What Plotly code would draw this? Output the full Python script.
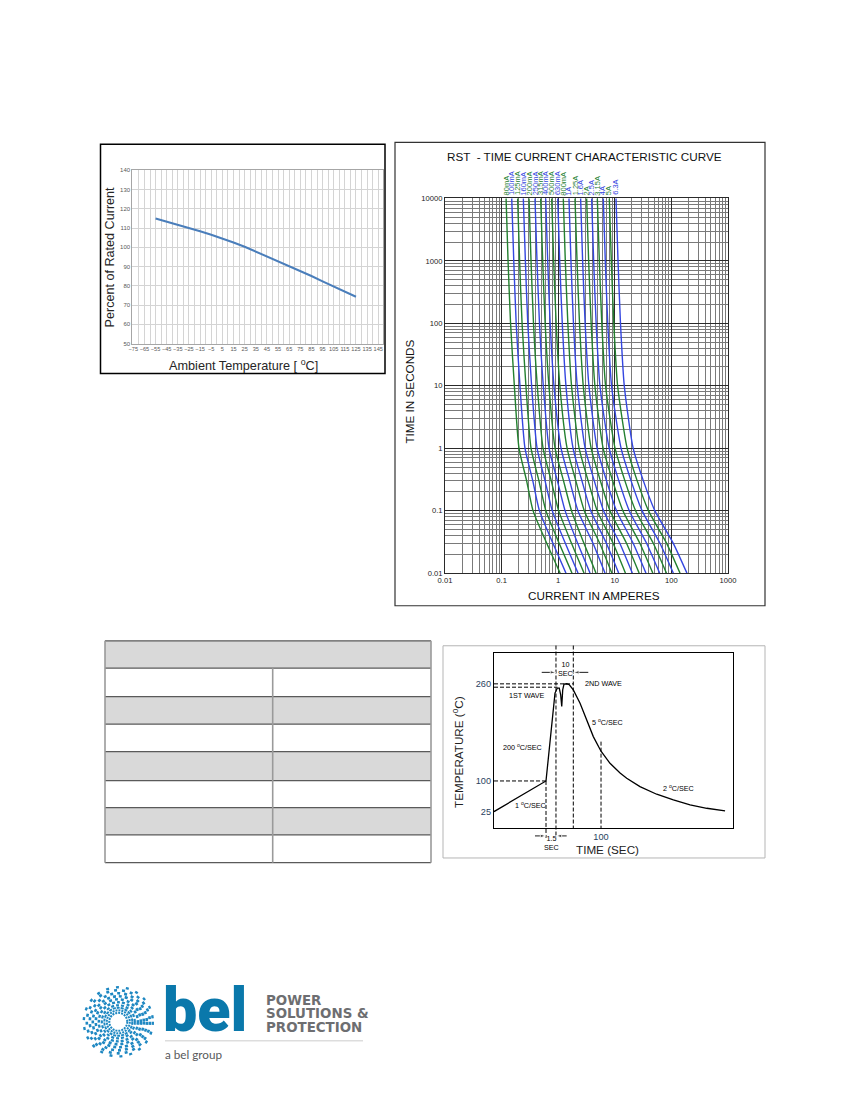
import math
import numpy as np
import plotly.graph_objects as go

W, H = 850, 1100

# page position (px on the printed page) -> paper fraction; the rendered
# figure sits in an 835 x 1090 box offset by (15, 12.8) on the page
PAGE_X0, PAGE_W = 15.0, 835.0
PAGE_Y0, PAGE_H = 12.8, 1090.0


def px(x):
    return (x - PAGE_X0) / PAGE_W


def py(y):
    return 1 - (y - PAGE_Y0) / PAGE_H


# ---- derating curve
derate_temp = [-55, -45, -35, -25, -15, -5, 5, 15, 25, 35, 45, 55, 65, 75, 85, 95, 105, 115, 125]
derate_pct = [115, 113.4, 111.8, 110.2, 108.3, 106.5, 104.6, 102.5, 100.3, 97.8, 95.3, 92.8,
              90.3, 87.7, 85.1, 82.3, 79.5, 76.9, 74.3]

# ---- time current characteristic (current in A read at each time)
ratings = ['80mA', '100mA', '125mA', '160mA', '200mA', '250mA', '315mA', '400mA', '500mA',
           '630mA', '800mA', '1A', '1.25A', '1.6A', '2A', '2.5A', '3.15A', '4A', '5A', '6.3A']
tcc_times = [10000, 1000, 100, 10, 1, 0.3, 0.1, 0.03, 0.01]
amps_10000s = [0.120, 0.151, 0.192, 0.242, 0.305, 0.389, 0.490, 0.601, 0.767, 0.98,
               1.23, 1.55, 1.98, 2.49, 3.18, 3.90, 4.91, 6.26, 8.0, 10.5]
amps_1000s = [0.130, 0.164, 0.208, 0.263, 0.331, 0.422, 0.532, 0.652, 0.832, 1.063,
              1.335, 1.68, 2.15, 2.70, 3.45, 4.23, 5.33, 6.79, 8.68, 11.4]
amps_100s = [0.144, 0.181, 0.230, 0.290, 0.366, 0.467, 0.588, 0.721, 0.920, 1.18,
             1.48, 1.86, 2.38, 2.99, 3.82, 4.68, 5.89, 7.51, 9.6, 12.6]
amps_10s = [0.168, 0.211, 0.269, 0.339, 0.427, 0.545, 0.686, 0.841, 1.07, 1.37,
            1.72, 2.17, 2.77, 3.49, 4.45, 5.46, 6.87, 8.76, 11.2, 14.7]
amps_1s = [0.203, 0.259, 0.331, 0.423, 0.540, 0.689, 0.880, 1.124, 1.435, 1.83,
           2.34, 2.99, 3.82, 4.87, 6.22, 7.95, 10.1, 12.9, 16.5, 21.1]
amps_300ms = [0.277, 0.356, 0.457, 0.587, 0.754, 0.968, 1.243, 1.596, 2.05, 2.63,
              3.38, 4.34, 5.57, 7.15, 9.18, 11.8, 15.1, 19.4, 24.9, 32.0]
amps_100ms = [0.359, 0.466, 0.605, 0.785, 1.019, 1.323, 1.717, 2.23, 2.89, 3.76,
              4.88, 6.33, 8.22, 10.7, 13.9, 18.0, 23.3, 30.3, 39.3, 51.0]
amps_30ms = [0.627, 0.807, 1.039, 1.337, 1.72, 2.21, 2.85, 4.12, 5.41, 7.10,
             9.33, 12.25, 16.1, 21.1, 27.7, 36.4, 47.8, 62.7, 82.4, 108]
amps_10ms = [1.08, 1.37, 1.75, 2.24, 2.86, 3.65, 4.65, 6.71, 8.86, 11.7,
             15.4, 20.4, 26.9, 35.5, 46.9, 61.9, 81.7, 108, 142, 188]
tcc_columns = [amps_10000s, amps_1000s, amps_100s, amps_10s, amps_1s,
               amps_300ms, amps_100ms, amps_30ms, amps_10ms]
tcc_xticks = [0.01, 0.1, 1, 10, 100, 1000]
tcc_yticks = [0.01, 0.1, 1, 10, 100, 1000, 10000]

# ---- wave soldering profile (schematic)
profile_time = [0, 48.6, 57.0, 59.2, 61.0, 62.3, 63.3, 64.2, 65.4, 67.9, 70.4, 72.6, 74.1,
                80.4, 86.6, 92.8, 100, 108.4, 117.8, 124, 136.4, 152, 167.6, 183.2, 198.8, 215.9]
profile_temp = [25, 100, 244.7, 252.9, 252.9, 241.9, 222.6, 250, 259.5, 260, 258.4, 252.9, 250,
                228, 201, 173, 149, 129, 113, 104.5, 86, 67.5, 53.6, 41.4, 33.2, 26.7]
temp_marks = [25, 100, 260]
temp_mark_pos = [0.0, 0.24, 1.0]   # schematic (not to scale) temperature axis
wave_marks = [48.6, 57.9, 74.1, 100]   # times of the guide lines


def temp_axis(t):
    return [float(v) for v in np.interp(np.atleast_1d(t), temp_marks, temp_mark_pos)]


GREEN = '#23802f'
BLUE = '#3446e0'
FONT = 'Liberation Sans, Arial, sans-serif'

fig = go.Figure()

# derating
fig.add_trace(go.Scatter(x=derate_temp, y=derate_pct, mode='lines',
                         line=dict(color='#4a7ebb', width=2),
                         xaxis='x', yaxis='y', hoverinfo='skip', showlegend=False))

# TCC curves
for i, name in enumerate(ratings):
    col = GREEN if i % 2 == 0 else BLUE
    fig.add_trace(go.Scatter(x=[c[i] for c in tcc_columns], y=tcc_times, mode='lines',
                             line=dict(color=col, width=1.4, shape='spline', smoothing=0.6),
                             xaxis='x2', yaxis='y2', name=name, hoverinfo='skip',
                             showlegend=False))

# soldering profile
fig.add_trace(go.Scatter(x=profile_time, y=temp_axis(profile_temp), mode='lines',
                         line=dict(color='black', width=1.3),
                         xaxis='x3', yaxis='y3', hoverinfo='skip', showlegend=False))

# guide lines and arrows on an overlay axis that reaches past the frame
y3_range = [-0.13, 1.24]
y4_range = [-0.30, 1.345]
guide_top, guide_bottom, arrow_low, arrow_high = 1.30, -0.205, -0.19, 1.09
dash_style = dict(color='black', width=1, dash='4px,2px')
t100, t_ramp_top, t_peak_end, t_ref = wave_marks
guides = [
    ([0, t100], temp_axis([100, 100])),
    ([0, t_peak_end], temp_axis([260, 260])),
    ([0, 59.2], temp_axis([254.5, 254.5])),
    ([t100, t100], [temp_axis(100)[0], guide_bottom]),
    ([t_ramp_top, t_ramp_top], [guide_top, guide_bottom]),
    ([t_peak_end, t_peak_end], [guide_top, y3_range[0]]),
    ([t_ref, t_ref], [temp_axis(164.8)[0], y3_range[0]]),
]
for xs, ys in guides:
    fig.add_trace(go.Scatter(x=xs, y=ys, mode='lines', line=dash_style,
                             xaxis='x4', yaxis='y4', hoverinfo='skip', showlegend=False))
arrows = [(44.6, t_ramp_top, arrow_high), (88.1, t_peak_end, arrow_high),
          (38.3, t100, arrow_low), (67.9, t_ramp_top, arrow_low)]
for tail, head, yy in arrows:
    fig.add_trace(go.Scatter(x=[tail, head], y=[yy, yy], mode='lines+markers',
                             line=dict(color='black', width=0.9),
                             marker=dict(symbol='arrow', size=[0, 6], angleref='previous',
                                         color='black'),
                             xaxis='x4', yaxis='y4', hoverinfo='skip', showlegend=False))

shapes = []
annotations = []


def rect(x0, y0, x1, y1, line=None, fill=None):
    shapes.append(dict(type='rect', xref='paper', yref='paper',
                       x0=px(x0), x1=px(x1), y0=py(y1), y1=py(y0),
                       line=line or dict(width=0), fillcolor=fill, layer='below'))


def hline(x0, x1, y, color, width=1):
    shapes.append(dict(type='line', xref='paper', yref='paper', x0=px(x0), x1=px(x1),
                       y0=py(y), y1=py(y), line=dict(color=color, width=width)))


def vline(x, y0, y1, color, width=1):
    shapes.append(dict(type='line', xref='paper', yref='paper', x0=px(x), x1=px(x),
                       y0=py(y0), y1=py(y1), line=dict(color=color, width=width)))


def text(x, y, s, size, color='black', xanchor='center', yanchor='middle', angle=0,
         family=FONT, weight=None):
    f = dict(size=size, color=color, family=family)
    if weight:
        f['weight'] = weight
    annotations.append(dict(x=px(x), y=py(y), xref='paper', yref='paper', text=s,
                            showarrow=False, xanchor=xanchor, yanchor=yanchor,
                            textangle=angle, font=f))


# frames
rect(100.5, 145, 385, 374, line=dict(color='black', width=1.5))
rect(395, 143, 765, 606, line=dict(color='#333333', width=1.2))
rect(443, 646, 765, 858, line=dict(color='#b5b5b5', width=1))

# derating titles
text(110, 258, 'Percent of Rated Current', 12.6, '#262626', angle=-90)
text(244, 365, 'Ambient Temperature [ <sup>o</sup>C]', 12.7, '#262626')

# TCC texts
text(584, 157, 'RST  - TIME CURRENT CHARACTERISTIC CURVE', 11.7, '#111111')
text(594, 596, 'CURRENT IN AMPERES', 11.7, '#111111')
text(410, 392, 'TIME IN SECONDS', 11.7, '#111111', angle=-90)
for i, name in enumerate(ratings):
    annotations.append(dict(x=math.log10(amps_10000s[i]), xref='x2', y=py(198), yref='paper',
                            text=name, showarrow=False, textangle=-90, xanchor='center',
                            yanchor='bottom',
                            font=dict(size=7.5, family=FONT,
                                      color=GREEN if i % 2 == 0 else BLUE)))

# table (no text)
table_left, table_mid, table_right = 105, 272.7, 431
row_edges = [641, 668.3, 696.7, 724.3, 751.7, 780.7, 807.7, 835, 862.7]
rect(table_left, row_edges[0], table_right, row_edges[1], fill='#d9d9d9')
for k in (2, 4, 6):
    rect(table_left, row_edges[k], table_right, row_edges[k + 1], fill='#d9d9d9')
for y in row_edges:
    hline(table_left, table_right, y, '#5a5a5a', 1.3)
vline(table_left, row_edges[0], row_edges[-1], '#9a9a9a', 1.6)
vline(table_right, row_edges[0], row_edges[-1], '#9a9a9a', 1.6)
vline(table_mid, row_edges[1], row_edges[-1], '#9a9a9a', 1.6)

# soldering profile texts
text(565, 669, '10<br>SEC', 7.2)
text(551, 843, '1.5<br>SEC', 7.2)
text(527, 696, '1ST WAVE', 7.2)
text(603, 684, '2ND WAVE', 7.2)
text(607, 722, '5 <sup>o</sup>C/SEC', 7.2)
text(522, 747, '200 <sup>o</sup>C/SEC', 7.2)
text(530, 805, '1 <sup>o</sup>C/SEC', 7.2)
text(678, 788, '2 <sup>o</sup>C/SEC', 7.2)
text(607, 850, 'TIME (SEC)', 11.7, '#222222')
text(458, 752, 'TEMPERATURE (<sup>o</sup>C)', 11.7, '#222222', angle=-90)

# logo
logo_cx, logo_cy = 118.3, 1021.7
logo_rings = [(9, '2px,1px', 2.0), (11.5, '2px,1px', 2.0), (14, '3px,1px', 2.0),
              (16.5, '3px,2px', 2.2), (19.5, '3px,2px', 2.4), (22.5, '3px,3px', 2.6),
              (25.5, '3px,3px', 2.6), (28.5, '3px,4px', 2.6), (31.5, '3px,5px', 2.6),
              (34.5, '3px,7px', 2.4)]
for r, d, w in logo_rings:
    shapes.append(dict(type='circle', xref='paper', yref='paper',
                       x0=px(logo_cx - r), x1=px(logo_cx + r),
                       y0=py(logo_cy + r), y1=py(logo_cy - r),
                       line=dict(color='#1f88c2', width=w, dash=d)))
text(161, 1010, 'bel', 61, '#0a78ab', xanchor='left', family='Roboto, Lato, sans-serif',
     weight=900)
for y, s in [(1000, 'POWER'), (1013.5, 'SOLUTIONS &'), (1027, 'PROTECTION')]:
    text(264, y, s, 13.4, '#6d6e71', xanchor='left', family='DejaVu Sans, sans-serif',
         weight='bold')
hline(165, 363, 1040.7, '#cccccc', 1)
text(163, 1054, 'a bel group', 11.7, '#58595b', xanchor='left', family='Lato, sans-serif')

fig.update_layout(
    width=W, height=H, margin=dict(l=0, r=0, t=0, b=0),
    paper_bgcolor='white', plot_bgcolor='rgba(0,0,0,0)', showlegend=False,
    font=dict(family=FONT),
    shapes=shapes, annotations=annotations,
    xaxis=dict(domain=[px(132.3), px(382.7)], range=[-75.9, 149], tickmode='linear',
               tick0=-75, dtick=10, tickangle=0, showgrid=True, gridcolor='#d4d4d4',
               gridwidth=1,
               minor=dict(tick0=-75, dtick=5, showgrid=True, gridcolor='#d4d4d4'),
               ticks='', tickfont=dict(size=5.6, color='#595959'), showline=True,
               linecolor='#a6a6a6', mirror=True, zeroline=False, anchor='y'),
    yaxis=dict(domain=[py(344), py(171)], range=[50, 140], tickmode='linear', tick0=50,
               dtick=10, showgrid=True, gridcolor='#d4d4d4', ticks='',
               tickfont=dict(size=6, color='#595959'), showline=True, linecolor='#a6a6a6',
               mirror=True, zeroline=False, anchor='x'),
    xaxis2=dict(domain=[px(445), px(728)], type='log', range=[-2, 3],
                tickvals=tcc_xticks, ticktext=[f'{v:g}' for v in tcc_xticks],
                showgrid=True, gridcolor='#2a2a2a', gridwidth=1,
                minor=dict(dtick='D1', showgrid=True, gridcolor='#7a7a7a', gridwidth=0.8),
                ticks='', tickfont=dict(size=7.6, color='#222222'), showline=True,
                linecolor='#2a2a2a', mirror=True, zeroline=False, anchor='y2'),
    yaxis2=dict(domain=[py(573.4), py(199)], type='log', range=[-2, 4],
                tickvals=tcc_yticks, ticktext=[f'{v:g}' for v in tcc_yticks],
                showgrid=True, gridcolor='#2a2a2a', gridwidth=1,
                minor=dict(dtick='D1', showgrid=True, gridcolor='#7a7a7a', gridwidth=0.8),
                ticks='', tickfont=dict(size=7.6, color='#222222'), showline=True,
                linecolor='#2a2a2a', mirror=True, zeroline=False, anchor='x2'),
    xaxis3=dict(domain=[px(494), px(733.3)], range=[0, 223.6], tickvals=[t_ref],
                ticktext=['100'], showgrid=False, ticks='', tickfont=dict(size=9.2),
                showline=True, linecolor='black', linewidth=1.2, mirror=True,
                zeroline=False, anchor='y3'),
    yaxis3=dict(domain=[py(828.3), py(653.3)], range=y3_range, tickvals=temp_mark_pos,
                ticktext=[str(v) for v in temp_marks], showgrid=False, ticks='',
                tickfont=dict(size=9.2), showline=True, linecolor='black', linewidth=1.2,
                mirror=True, zeroline=False, anchor='x3'),
    xaxis4=dict(domain=[px(494), px(733.3)], range=[0, 223.6], visible=False, anchor='y4'),
    yaxis4=dict(domain=[py(850), py(640)], range=y4_range, visible=False, anchor='x4'),
)

fig.write_html("out.html")
